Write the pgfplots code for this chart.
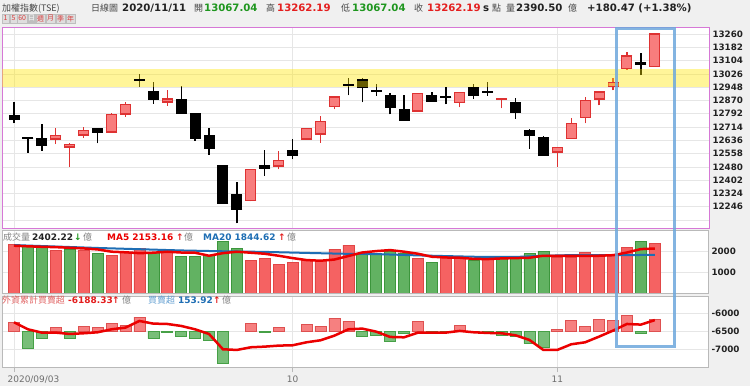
\documentclass[border=0pt]{standalone}
\usepackage{pgfplots}
\pgfplotsset{compat=1.18}
\usepackage{pgfplotstable}
\usepackage{fontspec}
\setmainfont{DejaVu Sans}
\newfontfamily\cjk{Noto Sans CJK TC}
\definecolor{bg}{RGB}{240,240,240}
\definecolor{pinkc}{RGB}{214,120,214}
\definecolor{gridc}{RGB}{230,230,230}
\definecolor{panelc}{RGB}{185,185,185}
\definecolor{redE}{RGB}{222,50,50}
\definecolor{redF}{RGB}{248,125,125}
\definecolor{volR}{RGB}{245,98,98}
\definecolor{volRE}{RGB}{225,70,70}
\definecolor{volG}{RGB}{98,178,98}
\definecolor{volGE}{RGB}{60,150,60}
\definecolor{mafive}{RGB}{235,0,0}
\definecolor{matwenty}{RGB}{30,110,180}
\definecolor{fR}{RGB}{246,128,128}
\definecolor{fRE}{RGB}{222,80,80}
\definecolor{fG}{RGB}{120,190,120}
\definecolor{fGE}{RGB}{70,160,70}
\definecolor{band}{RGB}{255,232,0}
\definecolor{boxb}{RGB}{110,168,220}
\definecolor{hgreen}{RGB}{30,150,30}
\definecolor{hred}{RGB}{228,30,30}
\definecolor{txt}{RGB}{34,34,34}
\definecolor{hdr}{RGB}{70,70,70}
\definecolor{lbl}{RGB}{110,110,110}
\definecolor{lgray}{RGB}{130,130,130}
\definecolor{fpink}{RGB}{225,100,100}
\definecolor{fblue}{RGB}{100,160,210}
\definecolor{btnF}{RGB}{222,222,222}
\definecolor{btnE}{RGB}{190,190,190}
\definecolor{btnT}{RGB}{215,60,60}
\newcommand\hN{\fontsize{10.2}{12}\selectfont\bfseries}
\newcommand\hC{\cjk\fontsize{9}{12}\selectfont}
\newcommand\lN{\fontsize{9}{11}\selectfont\bfseries}
\newcommand\lC{\cjk\fontsize{9}{11}\selectfont}

\pgfplotstableread{
i o h l c
3 12642 12706 12614 12667
4 12594 12618 12481 12612
5 12667 12712 12651 12694
7 12683 12794 12683 12790
8 12788 12859 12775 12849
11 12859 12931 12839 12880
17 12281 12470 12278 12465
19 12483 12573 12465 12520
21 12643 12706 12643 12706
22 12671 12780 12622 12749
23 12833 12892 12818 12892
29 12806 12912 12806 12912
32 12857 12919 12829 12919
35 12876 12886 12823 12880
39 12567 12596 12481 12596
40 12645 12765 12645 12737
41 12767 12890 12735 12870
42 12878 12921 12841 12921
43 12951 13004 12929 12976
44 13056 13156 13050 13131
46 13067 13262 13067 13262
}\redC
\pgfplotstableread{
i o h l c
0 12781 12863 12735 12761
1 12648 12657 12563 12647
2 12647 12730 12575 12604
6 12702 12706 12618 12681
9 12992 13023 12949 12988
10 12923 12976 12851 12874
12 12874 12955 12796 12796
13 12790 12790 12634 12647
14 12661 12706 12550 12587
15 12489 12489 12266 12266
16 12315 12391 12148 12234
18 12489 12577 12428 12471
20 12573 12643 12524 12546
24 12962 13004 12900 12958
25 12990 13000 12859 12947
26 12928 12964 12898 12925
27 12896 12913 12788 12831
28 12818 12902 12753 12753
30 12896 12921 12865 12865
31 12890 12949 12847 12886
33 12947 12964 12878 12902
34 12923 12976 12896 12919
36 12857 12886 12763 12798
37 12690 12700 12585 12665
38 12653 12661 12548 12548
45 13092 13146 13019 13082
}\blackC
\pgfplotstableread{
i v
0 2367
3 2077
5 2045
7 1820
8 1965
9 2142
11 1997
17 1562
18 1690
19 1401
20 1498
21 1578
22 1578
23 2126
24 2319
29 1659
31 1787
32 1787
34 1626
39 1739
40 1707
41 1965
42 1868
43 1868
44 2222
46 2402
}\volRed
\pgfplotstableread{
i v
1 2285
2 2285
4 2126
6 1932
10 1948
12 1787
13 1755
14 1820
15 2480
16 2158
25 1916
26 1932
27 1997
28 1900
30 1498
33 1578
35 1755
36 1755
37 1900
38 2029
45 2512
}\volGreen
\pgfplotstableread{
i v
0 2290
1 2260
2 2237
3 2220
4 2190
5 2158
6 2110
7 2000
8 1970
9 1930
10 1950
11 1997
12 1960
13 1950
14 1803
15 1930
16 1997
17 1950
18 1900
19 1803
20 1690
21 1594
22 1562
23 1620
24 1790
25 1960
26 2029
27 2077
28 2000
29 1900
30 1755
31 1720
32 1707
33 1650
34 1642
35 1674
36 1690
37 1707
38 1803
39 1800
40 1803
41 1803
42 1803
43 1830
44 1960
45 2126
46 2153
}\maFive
\pgfplotstableread{
i v
0 2319
3 2250
6 2180
9 2120
12 2060
15 2020
18 1990
21 1940
24 1895
26 1884
29 1820
33 1755
36 1745
38 1800
40 1836
43 1830
46 1845
}\maTwenty
\pgfplotstableread{
i v
0 131
3 56
5 79
6 56
7 112
8 89
9 205
17 117
19 61
21 103
22 79
23 191
24 149
29 145
32 84
39 28
40 159
41 70
42 173
43 154
44 233
46 173
}\fRed
\pgfplotstableread{
i v
1 -233
2 -93
4 -93
10 -98
11 -10
12 -61
13 -93
14 -117
15 -443
18 -10
25 -70
26 -56
27 -140
28 -23
30 -10
31 -10
33 -10
34 -10
35 -47
36 -70
37 -163
38 -219
45 -23
}\fGreen
\pgfplotstableread{
i v
0 -6247
1 -6440
2 -6531
3 -6531
4 -6568
5 -6549
6 -6522
7 -6440
8 -6394
9 -6211
10 -6284
11 -6293
12 -6348
13 -6440
14 -6568
15 -6989
16 -7007
17 -6934
18 -6916
19 -6888
20 -6879
21 -6797
22 -6742
23 -6614
24 -6440
25 -6421
26 -6504
27 -6650
28 -6660
29 -6531
30 -6531
31 -6531
32 -6485
33 -6522
34 -6540
35 -6549
36 -6604
37 -6732
38 -7007
39 -7007
40 -6852
41 -6797
42 -6641
43 -6476
44 -6293
45 -6311
46 -6188
}\fLine

\pgfplotsset{
  base/.style={scale only axis, xmin=-0.8615, clip=true,
    major tick length=0pt, scaled y ticks=false, scaled x ticks=false,
    grid style={draw=gridc, line width=0.6bp},
    axis background/.style={fill=white},
    yticklabel pos=right,
    yticklabel style={font=\fontsize{8.8}{10}\selectfont\bfseries, text=txt},
    /pgf/number format/assume math mode=true,
  },
  ebar/.style 2 args={draw=none, mark=none,
    error bars/.cd, y dir=plus, y explicit, error mark=none,
    error bar style={draw=#1, line width=#2}, /pgfplots/.cd},
}

\begin{document}
\begin{tikzpicture}
\useasboundingbox (0,0) rectangle (750bp,386bp);
\fill[bg] (0,0) rectangle (750bp,386bp);

% header
\begin{scope}[every node/.style={anchor=base west, inner sep=0pt}]
\node[font=\hC, text=hdr] at (2bp,374bp) {加權指數(TSE)};
\node[font=\hC, text=hdr] at (91bp,374bp) {日線圖};
\node[font=\hN, text=txt] at (122bp,374bp) {2020/11/11};
\node[font=\hC, text=hdr] at (194bp,374bp) {開};
\node[font=\hN, text=hgreen] at (204bp,374bp) {13067.04};
\node[font=\hC, text=hdr] at (266bp,374bp) {高};
\node[font=\hN, text=hred] at (277bp,374bp) {13262.19};
\node[font=\hC, text=hdr] at (341bp,374bp) {低};
\node[font=\hN, text=hgreen] at (352bp,374bp) {13067.04};
\node[font=\hC, text=hdr] at (414bp,374bp) {收};
\node[font=\hN, text=hred] at (427bp,374bp) {13262.19};
\node[font=\hN, text=txt] at (483bp,374bp) {s};
\node[font=\hC, text=hdr] at (492bp,374bp) {點};
\node[font=\hC, text=hdr] at (506bp,374bp) {量};
\node[font=\hN, text=txt] at (516bp,374bp) {2390.50};
\node[font=\hC, text=hdr] at (568bp,374bp) {億};
\node[font=\hN, text=txt] at (587bp,374bp) {+180.47 (+1.38\%)};
\end{scope}

% buttons
\foreach \a/\b/\t/\f/\c in {2/9/1/btnF/btnT, 10/17/5/btnF/btnT, 17.5/27/60/btnF/btnT, 27.5/35.5/日/btnE/white, 36/45/週/btnF/btnT, 46/55/月/btnF/btnT, 56/65/季/btnF/btnT, 66/75/年/btnF/btnT}{
  \draw[draw=btnE, fill=\f, line width=0.5bp] (\a bp,363bp) rectangle (\b bp,372bp);
  \node[font=\cjk\fontsize{7}{8}\selectfont, text=\c, inner sep=0pt] at ({(\a+\b)/2*1bp},367.5bp) {\t};
}

% main candlestick panel
\begin{axis}[base, at={(2bp,158bp)}, anchor=south west, width=707bp, height=200.3bp,
  xmax=49.89, ymin=12121, ymax=13297,
  axis line style={draw=pinkc, line width=0.9bp},
  xtick={0,20,39}, xticklabels={,,}, xmajorgrids,
  ytick={12168,12246,...,13260}, ymajorgrids,
  yticklabels={,12246,12324,12402,12480,12558,12636,12714,12792,12870,12948,13026,13104,13182,13260}]
% red wicks
\addplot[ebar={redE}{1.3bp}]
  table[x=i, y=l, y error plus expr=\thisrow{h}-\thisrow{l}] {\redC};
% red bodies
\addplot[only marks, mark=-, mark size=5.5bp, mark options={draw=redE, line width=1bp}] table[x=i, y=o] {\redC};
\addplot[only marks, mark=-, mark size=5.5bp, mark options={draw=redE, line width=1bp}] table[x=i, y=c] {\redC};
\addplot[ebar={redE}{11bp}]
  table[x=i, y=o, y error plus expr=\thisrow{c}-\thisrow{o}] {\redC};
\addplot[ebar={redF}{9bp}]
  table[x=i, y expr=\thisrow{o}+5.5, y error plus expr={max(\thisrow{c}-\thisrow{o}-11,0)}] {\redC};
% black wicks
\addplot[ebar={black}{1.3bp}]
  table[x=i, y=l, y error plus expr=\thisrow{h}-\thisrow{l}] {\blackC};
% black bodies
\addplot[ebar={black}{11bp}]
  table[x=i, y=c, y error plus expr=\thisrow{o}-\thisrow{c}] {\blackC};
\addplot[only marks, mark=-, mark size=5.5bp, mark options={draw=black, line width=1.5bp}] table[x=i, y=o] {\blackC};
\addplot[only marks, mark=-, mark size=5.5bp, mark options={draw=black, line width=1.5bp}] table[x=i, y=c] {\blackC};
% highlight band
\fill[band, opacity=0.4] (axis cs:-2,12951) rectangle (axis cs:52,13055);
\end{axis}

% volume panel
\begin{axis}[base, at={(2bp,93bp)}, anchor=south west, width=706bp, height=63bp,
  xmax=49.82, ymin=0, ymax=3050,
  axis line style={draw=panelc, line width=0.8bp},
  xtick={0,20,39}, xticklabels={,,}, xmajorgrids,
  ytick={1000,2000}, yticklabels={1000,2000}, ymajorgrids]
\addplot[ybar, bar width=11bp, bar shift=0pt, fill=volR, draw=volRE, line width=0.6bp] table[x=i, y=v] {\volRed};
\addplot[ybar, bar width=11bp, bar shift=0pt, fill=volG, draw=volGE, line width=0.6bp] table[x=i, y=v] {\volGreen};
\addplot[matwenty, line width=2bp] table[x=i, y=v] {\maTwenty};
\addplot[mafive, line width=2.5bp] table[x=i, y=v] {\maFive};
\end{axis}
\begin{scope}[every node/.style={anchor=base west, inner sep=0pt}]
\node[font=\lC, text=lgray] at (3bp,145.5bp) {成交量};
\node[font=\lN, text=txt] at (32bp,145.5bp) {2402.22};
\node[font=\lN, text=hgreen] at (74bp,145.5bp) {↓};
\node[font=\lC, text=lgray] at (83bp,145.5bp) {億};
\node[font=\lN, text=mafive] at (107bp,145.5bp) {MA5 2153.16};
\node[font=\lN, text=hred] at (176bp,145.5bp) {↑};
\node[font=\lC, text=lgray] at (184bp,145.5bp) {億};
\node[font=\lN, text=matwenty] at (203bp,145.5bp) {MA20 1844.62};
\node[font=\lN, text=hred] at (278bp,145.5bp) {↑};
\node[font=\lC, text=lgray] at (287bp,145.5bp) {億};
\end{scope}

% foreign investor panel: frame, grid, ticks
\begin{axis}[base, at={(2bp,18.7bp)}, anchor=south west, width=706bp, height=71.3bp,
  xmax=49.82, ymin=-7484, ymax=-5525,
  axis line style={draw=panelc, line width=0.8bp},
  major tick length=5bp, tick align=outside, xtick pos=bottom,
  xtick style={draw=panelc, line width=0.8bp}, ytick style={draw=none},
  xtick={20,39}, xticklabels={10,11}, xmajorgrids,
  extra x ticks={0}, extra x tick labels={2020/09/03},
  extra x tick style={grid=major, xticklabel style={xshift=19.5bp}},
  xticklabel style={font=\fontsize{9}{10}\selectfont, text=lbl},
  yticklabel style={xshift=-5bp},
  ytick={-7000,-6500,-6000}, yticklabels={-7000,-6500,-6000}, ymajorgrids]
\end{axis}
\begin{axis}[scale only axis, at={(2bp,18.7bp)}, anchor=south west, width=706bp, height=71.3bp,
  xmin=-0.8615, xmax=49.82, ymin=-500, ymax=500, hide axis, clip=true]
\addplot[ybar, bar width=11bp, bar shift=0pt, fill=fR, draw=fRE, line width=0.6bp] table[x=i, y=v] {\fRed};
\addplot[ybar, bar width=11bp, bar shift=0pt, fill=fG, draw=fGE, line width=0.6bp] table[x=i, y=v] {\fGreen};
\end{axis}
\begin{axis}[scale only axis, at={(2bp,18.7bp)}, anchor=south west, width=706bp, height=71.3bp,
  xmin=-0.8615, xmax=49.82, ymin=-7484, ymax=-5525, hide axis, clip=true]
\addplot[mafive, line width=2.5bp] table[x=i, y=v] {\fLine};
\end{axis}
\begin{scope}[every node/.style={anchor=base west, inner sep=0pt}]
\node[font=\lC, text=fpink] at (2bp,82bp) {外資累計買賣超};
\node[font=\lN, text=hred] at (68bp,82bp) {-6188.33};
\node[font=\lN, text=hred] at (112bp,82bp) {↑};
\node[font=\lC, text=lgray] at (122bp,82bp) {億};
\node[font=\lC, text=fblue] at (148bp,82bp) {買賣超};
\node[font=\lN, text=matwenty] at (178bp,82bp) {153.92};
\node[font=\lN, text=hred] at (213bp,82bp) {↑};
\node[font=\lC, text=lgray] at (222bp,82bp) {億};
\end{scope}

% highlight box over the last three sessions
\draw[boxb, line width=3bp, opacity=0.85] (616bp,39bp) rectangle (674bp,357bp);
\end{tikzpicture}
\end{document}
